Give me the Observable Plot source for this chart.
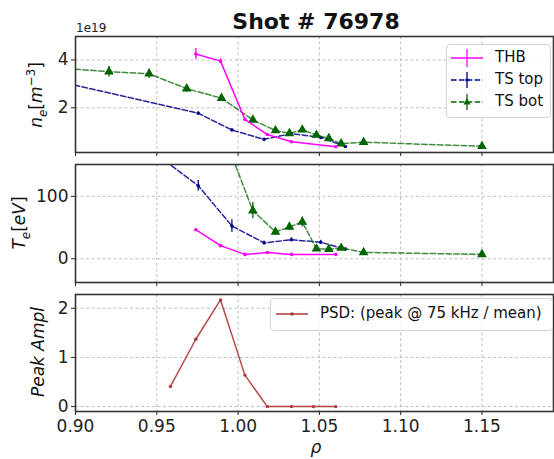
<!DOCTYPE html>
<html><head><meta charset="utf-8">
<script src="https://cdn.jsdelivr.net/npm/d3@7"></script>
<script src="https://cdn.jsdelivr.net/npm/@observablehq/plot@0.6"></script>
<style>
body{margin:0;background:#fff;font-family:"DejaVu Sans",sans-serif;}
#fig{position:relative;width:554px;height:459px;overflow:hidden;background:#fff;}
.abs{position:absolute;}
.ylab{position:absolute;font-family:"DejaVu Sans",sans-serif;font-size:17px;white-space:nowrap;transform:translate(-50%,-50%) rotate(-90deg);color:#111;}
.it{font-style:italic;}
.leg{position:absolute;border:1px solid #d4d4d4;border-radius:4px;background:rgba(255,255,255,0.85);font-size:15px;color:#111;}
.row{position:absolute;white-space:nowrap;}
</style></head><body><div id="fig"></div>
<script>
// ---- data (rho = normalised radius) ----
const xTicks = [0.90, 0.95, 1.00, 1.05, 1.10, 1.15];

const rhoTHB   = [0.974, 0.9892, 1.0042, 1.018, 1.0328, 1.0601];
const neTHB    = [4.25, 3.95, 1.51, 0.88, 0.58, 0.37];
const neTHBerr = [0.23, 0.10, 0.05, 0.04, 0.03, 0.03];
const teTHB    = [46.5, 21, 7, 10, 7, 7];

const rhoTStop   = [0.885, 0.9755, 0.9962, 1.016, 1.0328, 1.0508, 1.066];
const neTStop    = [3.17, 1.77, 1.07, 0.68, 0.92, 0.76, 0.38];
const neTStopErr = [0.08, 0.06, 0.05, 0.04, 0.04, 0.04, 0.03];
const teTStop    = [293, 117, 52.5, 25.5, 30.5, 26.5, 15.5];
const teTStopErr = [20, 8.5, 10, 3, 3, 3, 2];

const rhoTSbot   = [0.89, 0.9206, 0.9453, 0.9684, 0.9898, 1.0091, 1.023, 1.0316, 1.0395, 1.0482, 1.0558, 1.0634, 1.0772, 1.150];
const neTSbot    = [3.66, 3.51, 3.42, 2.80, 2.40, 1.49, 1.05, 0.93, 1.08, 0.86, 0.72, 0.50, 0.56, 0.39];
const neTSbotErr = [0.1, 0.22, 0.2, 0.15, 0.1, 0.1, 0.07, 0.07, 0.08, 0.06, 0.06, 0.05, 0.04, 0.04];
const teTSbot    = [360, 330, 300, 260, 208, 77, 43, 51, 59, 16, 15.3, 17.2, 10.2, 7];
const teTSbotErr = [30, 30, 25, 25, 20, 13, 5, 6, 8, 3, 3, 3, 2, 2];

const rhoPSD = [0.9584, 0.974, 0.9892, 1.0042, 1.018, 1.0328, 1.0463, 1.0601];
const psd    = [0.41, 1.37, 2.17, 0.64, 0, 0, 0, 0];

const neTicks = [2, 4];
const teTicks = [0, 100];
const psdTicks = [0, 1, 2];

// ---- styles ----
const cTHB = "#ff00ff", cTop = "#00008b", cBot = "#006400", cPSD = "#b03535";
const dash = "5.5,2.4";
const xDomain = [0.9, 1.194];
const rows = (xs, ys, es) => xs.map((x, i) => ({x, y: ys[i], e: es ? es[i] : 0}));

function series(data, color, opts) {
  const m = [];
  m.push(Plot.line(data, {x: "x", y: "y", stroke: color, strokeWidth: 1.5, strokeOpacity: opts.lineOpacity ?? 1,
    strokeDasharray: opts.dashed ? dash : null, clip: true}));
  if (opts.err) m.push(Plot.ruleX(data.filter(d => d.e > 0), {x: "x", y1: d => d.y - d.e, y2: d => d.y + d.e,
    stroke: color, strokeWidth: 1.3, clip: true}));
  if (opts.symbol === "triangle") m.push(Plot.dot(data, {x: "x", y: "y", symbol: "triangle", r: 3.6, fill: color, stroke: "none", clip: true}));
  else m.push(Plot.dot(data, {x: "x", y: "y", r: opts.r ?? 1.8, fill: color, stroke: "none", clip: true}));
  return m;
}

function panel({top, height, mt, mb, ydomain, yticks, marks, labels}) {
  const svg = Plot.plot({
    width: 554, height, marginLeft: 75, marginRight: 1, marginTop: mt, marginBottom: mb,
    style: {fontFamily: "'DejaVu Sans', sans-serif", fontSize: "17px", color: "#222", background: "transparent", overflow: "visible"},
    x: {domain: xDomain},
    y: {domain: ydomain},
    marks: [
      Plot.gridX({ticks: xTicks, stroke: "#b0b0b0", strokeOpacity: 1, strokeDasharray: "3,2.5", strokeWidth: 0.8}),
      Plot.gridY({ticks: yticks, stroke: "#b0b0b0", strokeOpacity: 1, strokeDasharray: "3,2.5", strokeWidth: 0.8}),
      ...marks,
      Plot.axisY({ticks: yticks, tickSize: 4, tickPadding: 3, label: null, tickFormat: d3.format("d"), fontSize: 17}),
      Plot.axisX({ticks: xTicks, tickSize: 4, tickPadding: 4, label: null,
        tickFormat: labels ? d3.format(".2f") : () => "", fontSize: 17}),
      Plot.frame({stroke: "#333", strokeWidth: 1.6})
    ]
  });
  svg.classList.add("abs");
  svg.style.left = "0px";
  svg.style.top = top + "px";
  return svg;
}

const fig = document.getElementById("fig");

const thb = rows(rhoTHB, neTHB, neTHBerr);
const top1 = rows(rhoTStop, neTStop, neTStopErr);
const bot1 = rows(rhoTSbot, neTSbot, neTSbotErr);
fig.appendChild(panel({top: 0, height: 160, mt: 36, mb: 8, ydomain: [0.13, 4.98], yticks: neTicks, labels: false,
  marks: [
    ...series(top1, cTop, {dashed: true, err: true, lineOpacity: 0.85}),
    ...series(bot1, cBot, {dashed: true, err: true, symbol: "triangle", lineOpacity: 0.75}),
    ...series(thb, cTHB, {err: true})
  ]}));

const thbT = rows(rhoTHB, teTHB, null);
const top2 = rows(rhoTStop, teTStop, teTStopErr);
const bot2 = rows(rhoTSbot, teTSbot, teTSbotErr);
fig.appendChild(panel({top: 160, height: 125, mt: 4, mb: 3, ydomain: [-38, 151], yticks: teTicks, labels: false,
  marks: [
    ...series(top2, cTop, {dashed: true, err: true, lineOpacity: 0.85}),
    ...series(bot2, cBot, {dashed: true, err: true, symbol: "triangle", lineOpacity: 0.75}),
    ...series(thbT, cTHB, {})
  ]}));

const p3 = rows(rhoPSD, psd, null);
fig.appendChild(panel({top: 285, height: 174, mt: 9, mb: 48, ydomain: [-0.1, 2.28], yticks: psdTicks, labels: true,
  marks: [...series(p3, cPSD, {lineOpacity: 0.9, r: 1.7})]}));

// ---- texts ----
function addHTML(html) { const d = document.createElement("div"); d.innerHTML = html; while (d.firstChild) fig.appendChild(d.firstChild); }
addHTML(`<div class="abs" style="left:316px;top:9px;transform:translateX(-50%);font-size:22px;font-weight:bold;white-space:nowrap;color:#111;">Shot # 76978</div>`);
addHTML(`<div class="abs" style="left:76px;top:21px;font-size:12px;color:#222;">1e19</div>`);
addHTML(`<div class="ylab" style="left:37px;top:95px;"><span class="it">n</span><sub class="it" style="font-size:12px">e</sub>[<span class="it">m</span><sup style="font-size:12px">−3</sup>]</div>`);
addHTML(`<div class="ylab" style="left:21px;top:223px;"><span class="it">T</span><sub class="it" style="font-size:12px">e</sub>[<span class="it">eV</span>]</div>`);
addHTML(`<div class="ylab it" style="left:38px;top:352px;">Peak Ampl</div>`);
addHTML(`<div class="abs it" style="left:316px;top:437px;transform:translateX(-50%);font-size:17px;color:#111;">ρ</div>`);

// ---- legends ----
function sample(color, dashed, marker, bar) {
  let s = `<svg width="34" height="22" style="position:absolute;left:0;top:0;overflow:visible">`;
  s += `<line x1="0" x2="32" y1="11" y2="11" stroke="${color}" stroke-width="1.5" ${dashed ? `stroke-dasharray="${dash}"` : ""}/>`;
  if (bar) s += `<line x1="16" x2="16" y1="${11 - bar}" y2="${11 + bar}" stroke="${color}" stroke-width="1.3"/>`;
  if (marker === "tri") s += `<path d="M16,7.3L19.6,13.5L12.4,13.5Z" fill="${color}"/>`;
  if (marker === "dot") s += `<circle cx="16" cy="11" r="1.8" fill="${color}"/>`;
  return s + `</svg>`;
}
addHTML(`<div class="leg" style="left:446px;top:44px;width:103px;height:72px;">
  <div class="row" style="left:4px;top:2px;">${sample(cTHB, false, null, 9)}<span style="position:absolute;left:44px;top:1px;">THB</span></div>
  <div class="row" style="left:4px;top:24px;">${sample(cTop, true, "dot", 8)}<span style="position:absolute;left:44px;top:1px;">TS top</span></div>
  <div class="row" style="left:4px;top:46px;">${sample(cBot, true, "tri", 8)}<span style="position:absolute;left:44px;top:1px;">TS bot</span></div>
</div>`);
addHTML(`<div class="leg" style="left:270px;top:298px;width:281px;height:31px;">
  <div class="row" style="left:5px;top:4px;">${sample(cPSD, false, "dot", 0)}<span style="position:absolute;left:44px;top:1px;">PSD: (peak @ 75 kHz / mean)</span></div>
</div>`);
</script></body></html>
